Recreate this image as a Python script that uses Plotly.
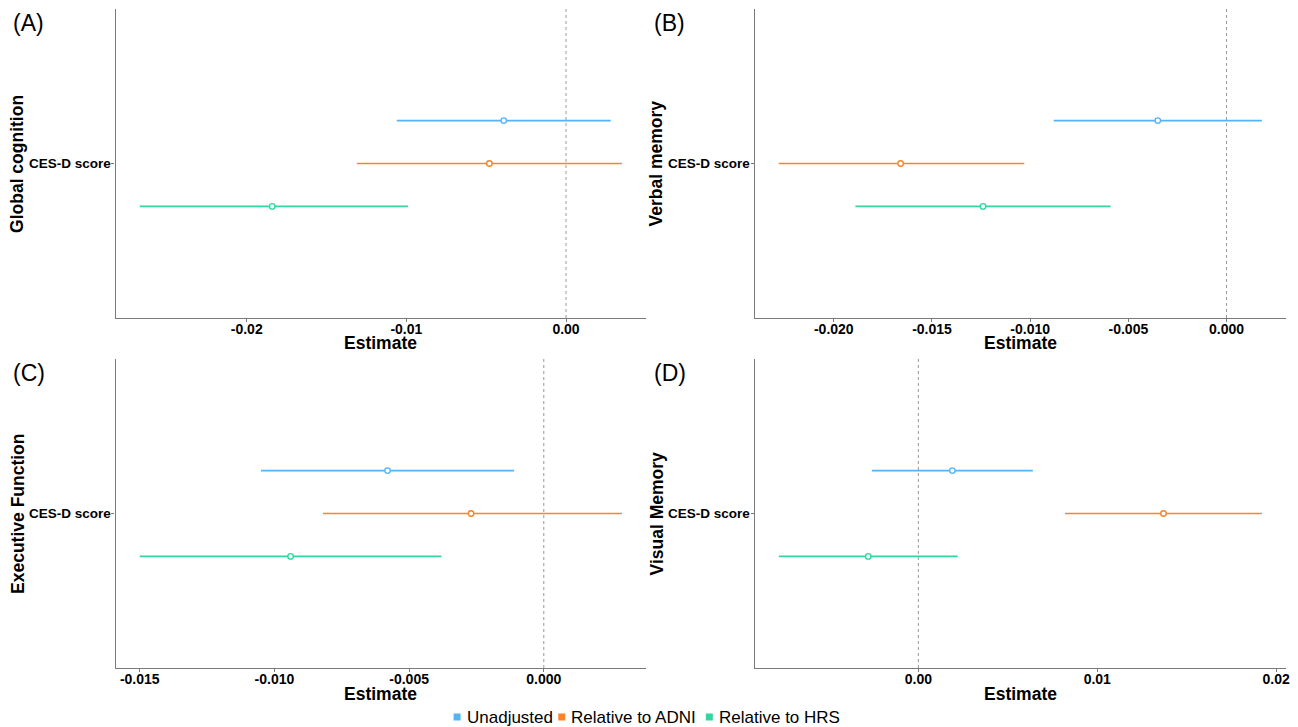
import plotly.graph_objects as go

# ---------------- data ----------------
groups = ["Unadjusted", "Relative to ADNI", "Relative to HRS"]
colors = ["#55b4f6", "#fd8326", "#33d69e"]
category = "CES-D score"

panel_letters = ["(A)", "(B)", "(C)", "(D)"]
outcomes = ["Global cognition", "Verbal memory", "Executive Function", "Visual Memory"]

est_A = [-0.0039, -0.0048, -0.0184]
lo_A = [-0.0106, -0.0131, -0.0267]
hi_A = [0.0028, 0.0035, -0.0099]

est_B = [-0.0035, -0.0166, -0.0124]
lo_B = [-0.0088, -0.0228, -0.0189]
hi_B = [0.0018, -0.0103, -0.0059]

est_C = [-0.0058, -0.0027, -0.0094]
lo_C = [-0.0105, -0.0082, -0.0150]
hi_C = [-0.0011, 0.0029, -0.0038]

est_D = [0.0019, 0.0137, -0.0028]
lo_D = [-0.0026, 0.0082, -0.0078]
hi_D = [0.0064, 0.0192, 0.0022]

ticks_A = [-0.02, -0.01, 0.0]
labels_A = ["-0.02", "-0.01", "0.00"]
ticks_B = [-0.020, -0.015, -0.010, -0.005, 0.0]
labels_B = ["-0.020", "-0.015", "-0.010", "-0.005", "0.000"]
ticks_C = [-0.015, -0.010, -0.005, 0.0]
labels_C = ["-0.015", "-0.010", "-0.005", "0.000"]
ticks_D = [0.0, 0.01, 0.02]
labels_D = ["0.00", "0.01", "0.02"]

panels = [
    (est_A, lo_A, hi_A, ticks_A, labels_A),
    (est_B, lo_B, hi_B, ticks_B, labels_B),
    (est_C, lo_C, hi_C, ticks_C, labels_C),
    (est_D, lo_D, hi_D, ticks_D, labels_D),
]

# ---------------- layout geometry ----------------
W, H = 1298, 727
xdoms = [(116 / W, 648 / W), (757 / W, 1290 / W)]
ydoms = [((727 - 318) / H, (727 - 9) / H), ((727 - 668) / H, (727 - 359) / H)]
ytitle_x = [17.5, 659]
letter_x = [11, 654]

FONT = "Arial, Liberation Sans, sans-serif"
AXIS_COL = "#7a7a7a"

fig = go.Figure()
layout = dict(
    width=W, height=H,
    margin=dict(l=0, r=0, t=0, b=0),
    paper_bgcolor="white", plot_bgcolor="white",
    font=dict(family=FONT, color="black"),
    showlegend=False,
)
annotations = []
shapes = []

for p, (est, lo, hi, tv, tt) in enumerate(panels):
    row, col = divmod(p, 2)
    ax = "" if p == 0 else str(p + 1)
    xref, yref = "x" + ax, "y" + ax
    allv = lo + hi
    mn, mx = min(allv), max(allv)
    pad = 0.05 * (mx - mn)
    xrange = [mn - pad, mx + pad]

    for i, g in enumerate(groups):
        ypos = 1 + (1 - i) / 6
        fig.add_trace(go.Scatter(
            x=[est[i]], y=[ypos], mode="markers",
            xaxis=xref, yaxis=yref, showlegend=False, name=g,
            marker=dict(symbol="circle", size=5.5, color="white",
                        line=dict(color=colors[i], width=1.4)),
            error_x=dict(type="data", symmetric=False,
                         array=[hi[i] - est[i]], arrayminus=[est[i] - lo[i]],
                         color=colors[i], thickness=1.7, width=0),
        ))

    layout["xaxis" + ax] = dict(
        domain=xdoms[col], anchor=yref, range=xrange,
        tickvals=tv, ticktext=tt, showgrid=False, zeroline=False,
        showline=True, linecolor=AXIS_COL, linewidth=1.3,
        ticks="outside", ticklen=2.5, tickcolor=AXIS_COL, tickwidth=1,
        ticklabelstandoff=-4,
        tickfont=dict(size=14, family=FONT, weight="bold", color="black"),
    )
    layout["yaxis" + ax] = dict(
        domain=ydoms[row], anchor=xref, range=[0.4, 1.6],
        tickvals=[1], ticktext=[category], showgrid=False, zeroline=False,
        showline=True, linecolor=AXIS_COL, linewidth=1.3,
        ticks="outside", ticklen=3, tickcolor=AXIS_COL, tickwidth=1,
        ticklabelstandoff=-2,
        tickfont=dict(size=13.5, family=FONT, weight="bold", color="black"),
    )
    shapes.append(dict(type="line", xref=xref, yref=yref + " domain", x0=0, x1=0, y0=0, y1=1,
                       line=dict(color="#9a9a9a", width=1, dash="3px,3px"), layer="below"))

    x0p, x1p = xdoms[col]
    y0p, y1p = ydoms[row]
    # x title
    annotations.append(dict(text="<b>Estimate</b>", xref="paper", yref="paper",
                            x=(x0p + x1p) / 2, y=y0p - 25.5 / H, xanchor="center", yanchor="middle",
                            showarrow=False, font=dict(size=17.5, family=FONT)))
    # y title
    annotations.append(dict(text="<b>" + outcomes[p] + "</b>", xref="paper", yref="paper",
                            x=ytitle_x[col] / W, y=(y0p + y1p) / 2, xanchor="center", yanchor="middle",
                            textangle=-90, showarrow=False, font=dict(size=17.5, family=FONT)))
    # panel letter
    annotations.append(dict(text=panel_letters[p], xref="paper", yref="paper",
                            x=letter_x[col] / W, y=y1p - 14 / H, xanchor="left", yanchor="middle",
                            showarrow=False, font=dict(size=23, family=FONT)))

# legend (bottom centre): coloured square keys + labels
legend_square_x = [455, 560, 708]
legend_y = 717
for i, g in enumerate(groups):
    sx = legend_square_x[i]
    shapes.append(dict(type="rect", xref="paper", yref="paper",
                       x0=sx / W, x1=(sx + 7) / W,
                       y0=(H - legend_y - 3.5) / H, y1=(H - legend_y + 3.5) / H,
                       fillcolor=colors[i], line=dict(width=0)))
    annotations.append(dict(text=g, xref="paper", yref="paper",
                            x=(sx + 11) / W, y=(H - legend_y) / H, xanchor="left", yanchor="middle",
                            showarrow=False, font=dict(size=17, family=FONT, color="black")))

layout["annotations"] = annotations
layout["shapes"] = shapes
fig.update_layout(**layout)

fig.write_html("out.html", config={"displayModeBar": False},
               post_script="document.body.style.margin='0';")
